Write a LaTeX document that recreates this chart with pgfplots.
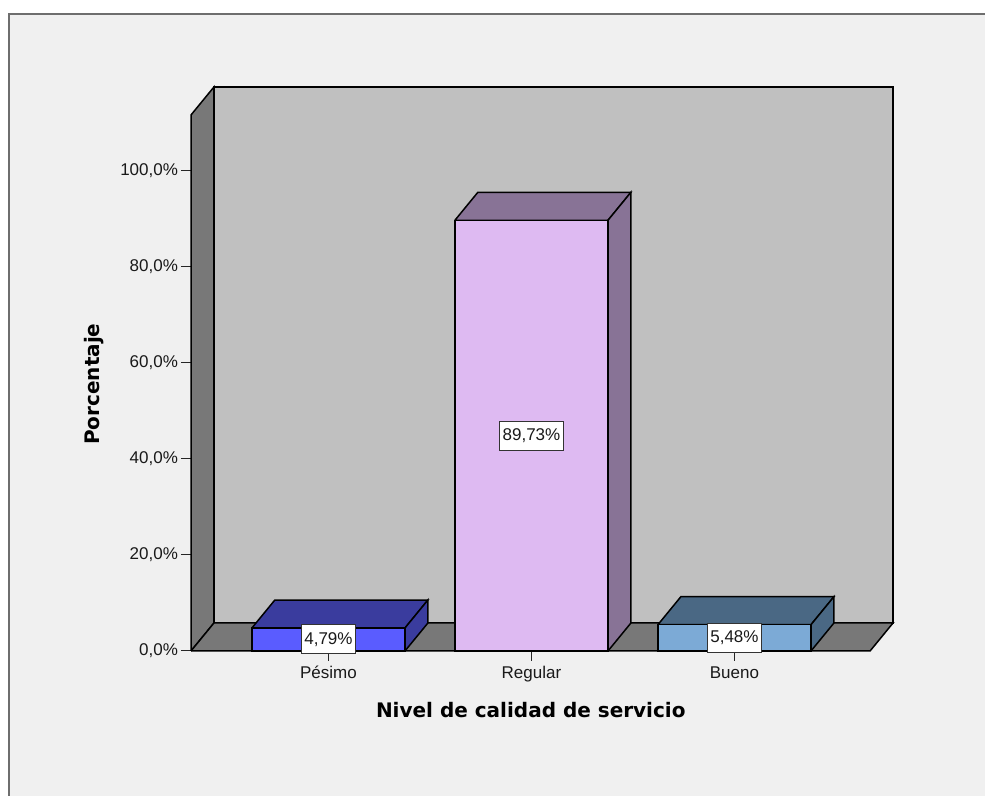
\documentclass[border=0pt]{standalone}
\usepackage{pgfplots}
\pgfplotsset{compat=1.18}
\usepackage{fontspec}
\setmainfont{Liberation Sans}
\newfontfamily\djv{DejaVu Sans}
\definecolor{bgc}{RGB}{240,240,240}
\definecolor{framec}{RGB}{110,110,110}
\definecolor{wallback}{RGB}{192,192,192}
\definecolor{wallside}{RGB}{120,120,120}
\definecolor{pesF}{RGB}{90,92,255}
\definecolor{pesD}{RGB}{58,60,158}
\definecolor{regF}{RGB}{222,186,242}
\definecolor{regD}{RGB}{136,115,150}
\definecolor{bueF}{RGB}{124,170,214}
\definecolor{bueD}{RGB}{74,104,132}
\begin{document}
\begin{tikzpicture}
\useasboundingbox (0,0) rectangle (492.5pt,398pt);
\fill[white] (0,0) rectangle (492.5pt,398pt);
\fill[bgc] (4.5pt,0) rectangle (492.5pt,391pt);
\draw[framec, line width=1pt] (4.5pt,0) -- (4.5pt,391pt) -- (492.5pt,391pt);
\begin{axis}[
  at={(95.5pt,72.5pt)}, anchor=south west,
  scale only axis, width=351pt, height=282pt,
  xmin=-0.677, xmax=2.781, ymin=0, ymax=117.5,
  clip=false,
  separate axis lines,
  axis line style={draw=none},
  xtick={0,1,2}, xticklabels={Pésimo,Regular,Bueno},
  ytick={0,20,40,60,80,100},
  yticklabels={{0,0\%},{20,0\%},{40,0\%},{60,0\%},{80,0\%},{100,0\%}},
  xtick pos=left, ytick pos=left,
  tick align=outside, major tick length=5pt,
  tick style={black!85, line width=0.5pt},
  ticklabel style={font=\fontsize{8.5}{10}\selectfont, text=black!90},
  yticklabel style={xshift=2pt},
  xticklabel style={yshift=0.8pt},
  every axis y label/.style={at={(axis description cs:-0.138,0.473)}, anchor=center, rotate=90},
  every axis x label/.style={at={(axis description cs:0.484,-0.1046)}, anchor=center},
  ylabel={\djv\bfseries\fontsize{10}{12}\selectfont Porcentaje},
  xlabel={\djv\bfseries\fontsize{10}{12}\selectfont Nivel de calidad de servicio},
]
% back wall, left wall, floor
\addplot[fill=wallback, draw=black, line width=0.75pt] coordinates {(-0.564,5.833) (2.781,5.833) (2.781,117.5) (-0.564,117.5) (-0.564,5.833)};
\addplot[fill=wallside, draw=black, line width=0.75pt] coordinates {(-0.677,0) (-0.564,5.833) (-0.564,117.5) (-0.677,111.67) (-0.677,0)};
\addplot[fill=wallside, draw=black, line width=0.75pt] coordinates {(-0.677,0) (2.668,0) (2.781,5.833) (-0.564,5.833) (-0.677,0)};
% Pésimo 4.79
\addplot[fill=pesD, draw=black, line width=0.75pt] coordinates {(-0.377,4.79) (-0.264,10.623) (0.490,10.623) (0.377,4.79) (-0.377,4.79)};
\addplot[fill=pesD, draw=black, line width=0.75pt] coordinates {(0.377,0) (0.377,4.79) (0.490,10.623) (0.490,5.833) (0.377,0)};
\addplot[ybar, bar shift=0pt, bar width=0.754, fill=pesF, draw=black, line width=0.75pt] coordinates {(0,4.79)};
% Regular 89.73
\addplot[fill=regD, draw=black, line width=0.75pt] coordinates {(0.623,89.73) (0.736,95.563) (1.490,95.563) (1.377,89.73) (0.623,89.73)};
\addplot[fill=regD, draw=black, line width=0.75pt] coordinates {(1.377,0) (1.377,89.73) (1.490,95.563) (1.490,5.833) (1.377,0)};
\addplot[ybar, bar shift=0pt, bar width=0.754, fill=regF, draw=black, line width=0.75pt] coordinates {(1,89.73)};
% Bueno 5.48
\addplot[fill=bueD, draw=black, line width=0.75pt] coordinates {(1.623,5.48) (1.736,11.313) (2.490,11.313) (2.377,5.48) (1.623,5.48)};
\addplot[fill=bueD, draw=black, line width=0.75pt] coordinates {(2.377,0) (2.377,5.48) (2.490,11.313) (2.490,5.833) (2.377,0)};
\addplot[ybar, bar shift=0pt, bar width=0.754, fill=bueF, draw=black, line width=0.75pt] coordinates {(2,5.48)};
% value labels at half height
\addplot[draw=none, nodes near coords, point meta=explicit symbolic,
  every node near coord/.style={anchor=center, fill=white, draw=black!80, line width=0.5pt,
    inner xsep=1.5pt, inner ysep=0pt, minimum height=14.5pt, text=black!90,
    font=\fontsize{8.5}{10}\selectfont}]
  coordinates {(0,2.395) [4,79\%] (1,44.865) [89,73\%] (2,2.74) [5,48\%]};
\end{axis}
\end{tikzpicture}
\end{document}
